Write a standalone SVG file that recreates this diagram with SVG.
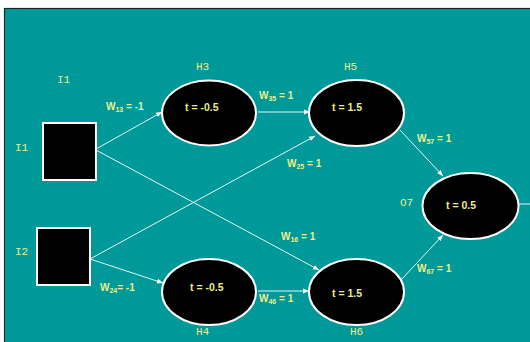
<svg xmlns="http://www.w3.org/2000/svg" width="530" height="342" viewBox="0 0 530 342">
  <style>
    .node { fill: #000000; stroke: #ffffff; stroke-width: 2; }
    .lbl { font-family: "Liberation Mono", "Courier New", monospace; font-size: 11px; fill: #eeee88; }
    .th { font-family: "Liberation Sans", Arial, sans-serif; font-size: 10.5px; font-weight: bold; fill: #eeee88; }
    .w { font-family: "Liberation Sans", Arial, sans-serif; font-size: 10px; font-weight: bold; fill: #eeee88; }
    .sub { font-size: 7px; }
    .edge { stroke: #ffffff; stroke-width: 0.9; fill: none; }
  </style>
  <defs>
    <marker id="arr" viewBox="0 0 10 10" refX="10" refY="5" markerWidth="6" markerHeight="6" orient="auto" markerUnits="userSpaceOnUse">
      <path d="M0,1 L10,5 L0,9 Z" fill="#ffffff"/>
    </marker>
  </defs>
  <rect x="0" y="0" width="530" height="342" fill="#ffffff"/>
  <rect x="4.5" y="8.5" width="540" height="350" fill="#009999" stroke="#0a2a2a" stroke-width="1.2"/>

  <g id="connectors">
    <line class="edge" x1="96" y1="149" x2="162" y2="112" marker-end="url(#arr)"/>
    <line class="edge" x1="96" y1="150" x2="319" y2="270" marker-end="url(#arr)"/>
    <line class="edge" x1="90" y1="259" x2="315" y2="136" marker-end="url(#arr)"/>
    <line class="edge" x1="90" y1="259" x2="163" y2="283" marker-end="url(#arr)"/>
    <line class="edge" x1="258" y1="112" x2="310" y2="112" marker-end="url(#arr)"/>
    <line class="edge" x1="258" y1="291" x2="309" y2="291" marker-end="url(#arr)"/>
    <line class="edge" x1="400" y1="130" x2="443" y2="176" marker-end="url(#arr)"/>
    <line class="edge" x1="401" y1="280" x2="443" y2="235" marker-end="url(#arr)"/>
    <line class="edge" x1="519" y1="204" x2="530" y2="204"/>
  </g>

  <g id="I1">
    <rect class="node" x="43" y="123" width="53" height="57"/>
    <text class="lbl" x="57" y="83">I1</text>
    <text class="lbl" x="15" y="151">I1</text>
  </g>
  <g id="I2">
    <rect class="node" x="37" y="228" width="53" height="57"/>
    <text class="lbl" x="15" y="255">I2</text>
  </g>
  <g id="H3">
    <ellipse class="node" cx="209" cy="113" rx="47" ry="32.5"/>
    <text class="lbl" x="196" y="70">H3</text>
    <text class="th" x="185" y="111">t = -0.5</text>
  </g>
  <g id="H4">
    <ellipse class="node" cx="209" cy="292" rx="47" ry="33"/>
    <text class="lbl" x="196" y="335">H4</text>
    <text class="th" x="190" y="291">t = -0.5</text>
  </g>
  <g id="H5">
    <ellipse class="node" cx="356.5" cy="113" rx="47.5" ry="33"/>
    <text class="lbl" x="344" y="70">H5</text>
    <text class="th" x="332" y="111">t = 1.5</text>
  </g>
  <g id="H6">
    <ellipse class="node" cx="356.5" cy="292" rx="47.5" ry="33"/>
    <text class="lbl" x="350" y="335">H6</text>
    <text class="th" x="332" y="297">t = 1.5</text>
  </g>
  <g id="O7">
    <ellipse class="node" cx="470.5" cy="206" rx="48" ry="33"/>
    <text class="lbl" x="400" y="206">O7</text>
    <text class="th" x="446" y="209">t = 0.5</text>
  </g>

  <g id="weights">
    <text class="w" x="106" y="110">W<tspan class="sub" dy="2">13</tspan><tspan dy="-2"> = -1</tspan></text>
    <text class="w" x="259" y="99">W<tspan class="sub" dy="2">35</tspan><tspan dy="-2"> = 1</tspan></text>
    <text class="w" x="287" y="167">W<tspan class="sub" dy="2">25</tspan><tspan dy="-2"> = 1</tspan></text>
    <text class="w" x="281" y="240">W<tspan class="sub" dy="2">16</tspan><tspan dy="-2"> = 1</tspan></text>
    <text class="w" x="259" y="302">W<tspan class="sub" dy="2">46</tspan><tspan dy="-2"> = 1</tspan></text>
    <text class="w" x="100" y="291">W<tspan class="sub" dy="2">24</tspan><tspan dy="-2">= -1</tspan></text>
    <text class="w" x="417" y="142">W<tspan class="sub" dy="2">57</tspan><tspan dy="-2"> = 1</tspan></text>
    <text class="w" x="417" y="272">W<tspan class="sub" dy="2">67</tspan><tspan dy="-2"> = 1</tspan></text>
  </g>
</svg>
